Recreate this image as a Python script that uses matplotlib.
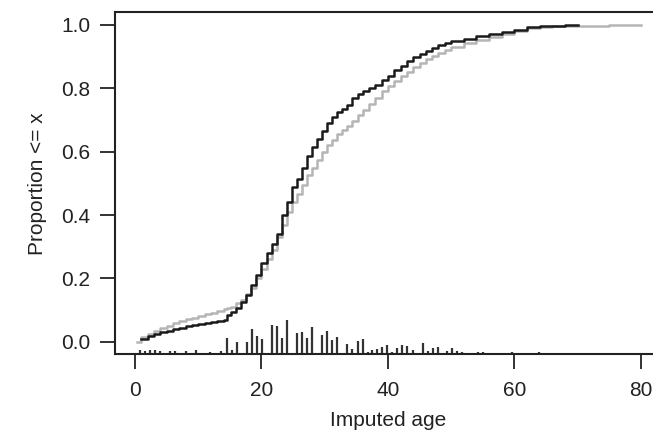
import matplotlib
matplotlib.use("Agg")
import matplotlib.pyplot as plt
import numpy as np

plt.rcParams['font.family'] = ['Liberation Sans', 'DejaVu Sans']

# ECDF step points (age, cumulative proportion)
black_age = [1, 2, 3, 4, 5, 6, 7, 8, 9, 10, 11, 12, 13, 14, 14.6, 15.2, 16, 16.8,
             17.6, 18.4, 19.2, 20, 20.8, 21.6, 22.4, 23.2, 24, 24.8, 25.6, 26.4,
             27.2, 28, 28.8, 29.6, 30.4, 31.2, 32, 32.8, 33.6, 34.4, 35.2, 36, 37,
             38, 39, 40, 41, 42, 43, 44, 45, 46, 47, 48, 49, 50, 52, 54, 56, 58,
             60, 62, 64, 66, 68, 70]
black_prop = [0.010, 0.018, 0.025, 0.030, 0.035, 0.040, 0.044, 0.049, 0.052, 0.055,
              0.058, 0.062, 0.066, 0.070, 0.085, 0.095, 0.106, 0.125, 0.148, 0.178,
              0.210, 0.250, 0.280, 0.310, 0.340, 0.400, 0.440, 0.490, 0.515, 0.550,
              0.585, 0.615, 0.640, 0.665, 0.690, 0.710, 0.725, 0.735, 0.748, 0.770,
              0.782, 0.790, 0.800, 0.810, 0.825, 0.840, 0.857, 0.870, 0.885, 0.898,
              0.908, 0.918, 0.928, 0.936, 0.943, 0.948, 0.956, 0.964, 0.970, 0.977,
              0.983, 0.993, 0.997, 0.998, 0.999, 1.000]

gray_age = [0.3, 1, 2, 3, 4, 5, 6, 7, 8, 9, 10, 11, 12, 13, 14, 14.6, 15.2, 16, 16.8,
            17.6, 18.4, 19.2, 20, 20.8, 21.6, 22.4, 23.2, 24, 24.8, 25.6, 26.4, 27.2,
            28, 28.8, 29.6, 30.4, 31.2, 32, 32.8, 33.6, 34.4, 35.2, 36, 37, 38, 39,
            40, 41, 42, 43, 44, 45, 46, 47, 48, 49, 50, 52, 54, 56, 58, 60, 62, 64,
            66, 70, 75, 80]
gray_prop = [0.0, 0.015, 0.025, 0.035, 0.042, 0.050, 0.058, 0.064, 0.071, 0.076,
             0.082, 0.087, 0.092, 0.097, 0.102, 0.106, 0.110, 0.122, 0.133, 0.150,
             0.170, 0.200, 0.230, 0.260, 0.290, 0.330, 0.370, 0.410, 0.440, 0.465,
             0.495, 0.525, 0.550, 0.575, 0.600, 0.620, 0.638, 0.655, 0.668, 0.682,
             0.698, 0.715, 0.733, 0.752, 0.771, 0.790, 0.806, 0.822, 0.838, 0.852,
             0.866, 0.880, 0.892, 0.903, 0.913, 0.922, 0.930, 0.943, 0.953, 0.962,
             0.972, 0.982, 0.990, 0.995, 0.997, 0.998, 0.999, 1.000]

# Histogram spikes along the bottom (bin centre, relative height)
spike_age = [0.8, 1.6, 2.4, 3.2, 4.0, 5.5, 6.3, 8.1, 9.7, 11.9, 13.6, 14.6, 15.4,
             16.2, 17.7, 18.5, 19.3, 20.1, 21.7, 22.5, 23.3, 24.1, 25.6, 26.4, 27.2,
             28.0, 29.6, 30.4, 31.2, 32.0, 33.6, 34.4, 35.2, 36.0, 36.8, 37.5, 38.3,
             39.1, 39.9, 40.7, 41.5, 42.3, 43.1, 43.9, 45.6, 46.3, 47.1, 47.9, 49.4,
             50.2, 51.0, 51.8, 54.2, 55.0, 55.8, 57.0, 57.8, 59.7, 60.6, 61.4, 62.2,
             63.0, 63.9, 64.6, 65.4, 67.6, 70.9]
spike_height = [4, 3, 4, 4, 3, 3, 3, 3, 4, 2, 3, 16, 4, 12, 12, 25, 18, 15, 29, 28,
                16, 34, 21, 22, 16, 27, 19, 23, 14, 17, 10, 5, 13, 15, 2, 4, 5, 7, 9,
                2, 6, 9, 8, 4, 11, 3, 6, 7, 3, 6, 3, 2, 2, 2, 1, 1, 1, 2, 1, 1, 1, 1,
                2, 1, 1, 1, 1]

xticks = [0, 20, 40, 60, 80]
yticks = [0.0, 0.2, 0.4, 0.6, 0.8, 1.0]

W, H = 653, 437
fig = plt.figure(figsize=(W / 100, H / 100), dpi=100)
ax = fig.add_axes([114.8 / W, (H - 354.4) / H, (661 - 114.8) / W, (354.4 - 12.3) / H])

xlim = (-3.2, 83.2)
ylim = (-0.04, 1.04)
ax.set_xlim(*xlim)
ax.set_ylim(*ylim)

# spikes: heights given in fraction of a unit of 316.7 px per proportion
scale = 1 / 316.7
ax.vlines(spike_age, ylim[0], ylim[0] + np.array(spike_height) * scale,
          colors='#333333', linewidth=1.6)

ax.step(gray_age, gray_prop, where='post', color='#b5b5b5', linewidth=1.8)
ax.step(black_age, black_prop, where='post', color='#1a1a1a', linewidth=1.8)

ax.set_xticks(xticks)
ax.set_xticklabels([str(v) for v in xticks])
ax.set_yticks(yticks)
ax.set_yticklabels([f"{v:.1f}" for v in yticks])

for s in ['left', 'top', 'bottom']:
    ax.spines[s].set_linewidth(1.5)
    ax.spines[s].set_color('#222222')
ax.spines['right'].set_visible(False)

ax.tick_params(axis='both', direction='out', length=10.8, width=1.3,
               color='#222222', labelsize=15, labelcolor='#222222')
ax.tick_params(axis='y', pad=7)
ax.tick_params(axis='x', pad=8)

ax.set_xlabel('Imputed age', fontsize=15, color='#222222', labelpad=8)
ax.set_ylabel('Proportion <= x', fontsize=15, color='#222222', labelpad=10)

fig.savefig('out.png', dpi=100)
